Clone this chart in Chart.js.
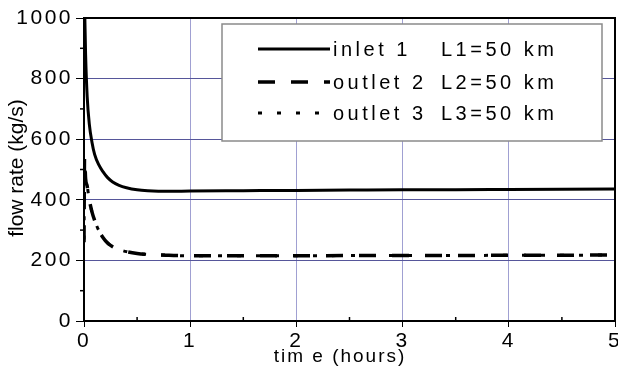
<!DOCTYPE html>
<html>
<head>
<meta charset="utf-8">
<script src="https://cdn.jsdelivr.net/npm/chart.js@4.4.1/dist/chart.umd.min.js"></script>
<style>
html, body { margin: 0; padding: 0; background: #fff; }
#wrap { width: 618px; height: 378px; }
</style>
</head>
<body>
<div id="wrap"><canvas id="myChart"></canvas></div>
<script>
// data
var timeHours   = [0, 0.005, 0.015, 0.03, 0.05, 0.075, 0.1, 0.14, 0.18, 0.22, 0.27, 0.33, 0.4, 0.5, 0.6, 0.8, 1.0, 1.5, 2, 2.5, 3, 3.5, 4, 4.5, 5]
var inletFlow   = [1100, 1050, 880, 740, 650, 590, 550, 515, 492, 474, 459, 448, 440, 433, 430, 428, 429, 430, 431, 432, 433, 433, 434, 435, 436]
var outlet2Flow = [260, 540, 470, 445, 400, 360, 332, 298, 275, 258, 245, 236, 229, 223, 220, 217, 215, 215, 215, 216, 216, 216, 217, 217, 218]
var outlet3Flow = [260, 540, 470, 445, 400, 360, 332, 298, 275, 258, 245, 236, 229, 223, 220, 217, 215, 215, 215, 216, 216, 216, 217, 217, 218]
var xMinorTicks = [0.5, 1.5, 2.5, 3.5, 4.5]
var yMinorTicks = [100, 300, 500, 700, 900]
var seriesNames = ['inlet 1', 'outlet 2', 'outlet 3']
var seriesLengths = ['L1=50 km', 'L2=50 km', 'L3=50 km']
var xTitle = 'tim e (hours)'
var yTitle = 'flow rate (kg/s)'

function points(ys){
    return timeHours.map(function(t, i){ return {x: t, y: ys[i]} })
}

var FONT = "'Liberation Sans', Arial, sans-serif"

// spacing for the wide looking labels
var spacing = {
    id: 'spacing',
    beforeDraw: function(chart){
        chart.ctx.letterSpacing = '2.5px'
    }
}

// frame, minor ticks, legend box and axis titles
var extras = {
    id: 'extras',
    afterDatasetsDraw: function(chart){
        var ctx = chart.ctx
        var a = chart.chartArea
        var xs = chart.scales.x
        var ys = chart.scales.y
        ctx.save()
        ctx.letterSpacing = '0px'
        ctx.strokeStyle = '#000'
        ctx.lineWidth = 2
        ctx.beginPath()
        ctx.moveTo(a.left, a.top)
        ctx.lineTo(a.right, a.top)
        ctx.lineTo(a.right, a.bottom)
        ctx.stroke()

        ctx.lineWidth = 1.5
        yMinorTicks.forEach(function(v){
            var py = ys.getPixelForValue(v)
            ctx.beginPath()
            ctx.moveTo(a.left - 4, py)
            ctx.lineTo(a.left, py)
            ctx.stroke()
        })
        xMinorTicks.forEach(function(v){
            var px = xs.getPixelForValue(v)
            ctx.beginPath()
            ctx.moveTo(px, a.bottom)
            ctx.lineTo(px, a.bottom - 4)
            ctx.stroke()
        })

        // legend
        ctx.fillStyle = '#fff'
        ctx.fillRect(222, 24, 380, 117)
        ctx.strokeStyle = '#8a8a8a'
        ctx.lineWidth = 1.5
        ctx.strokeRect(222, 24, 380, 117)
        var rows = [49, 82, 113]
        chart.data.datasets.forEach(function(ds, i){
            ctx.strokeStyle = '#000'
            ctx.lineWidth = ds.borderWidth
            ctx.setLineDash(ds.borderDash || [])
            ctx.beginPath()
            ctx.moveTo(258, rows[i])
            ctx.lineTo(330, rows[i])
            ctx.stroke()
            ctx.setLineDash([])
            ctx.fillStyle = '#000'
            ctx.font = '20px ' + FONT
            ctx.letterSpacing = '3.5px'
            ctx.textBaseline = 'middle'
            ctx.textAlign = 'left'
            ctx.fillText(seriesNames[i], 333, rows[i] + 1)
            ctx.fillText(seriesLengths[i], 441, rows[i] + 1)
        })

        // axis titles
        ctx.font = '19px ' + FONT
        ctx.letterSpacing = '2px'
        ctx.textAlign = 'center'
        ctx.fillText(xTitle, 340, 357)
        ctx.font = '21px ' + FONT
        ctx.letterSpacing = '0px'
        ctx.translate(17, 168)
        ctx.rotate(-Math.PI / 2)
        ctx.fillText(yTitle, 0, 0)
        ctx.restore()
    }
}

var ctx = document.getElementById('myChart')
var myChart = new Chart(ctx, {
    type: 'line',
    data: {
        datasets: [{
            label: seriesNames[0],
            data: points(inletFlow),
            borderColor: '#000',
            borderWidth: 3,
            pointRadius: 0,
            cubicInterpolationMode: 'monotone'
        }, {
            label: seriesNames[1],
            data: points(outlet2Flow),
            borderColor: '#000',
            borderWidth: 3.5,
            borderDash: [17, 16],
            pointRadius: 0,
            cubicInterpolationMode: 'monotone'
        }, {
            label: seriesNames[2],
            data: points(outlet3Flow),
            borderColor: '#000',
            borderWidth: 3,
            borderDash: [4, 15],
            borderDashOffset: -22,
            pointRadius: 0,
            cubicInterpolationMode: 'monotone'
        }]
    },
    options: {
        responsive: true,
        maintainAspectRatio: false,
        animation: false,
        layout: { padding: { top: 18, right: 3, left: 0, bottom: 0 } },
        plugins: {
            legend: { display: false },
            tooltip: { enabled: false }
        },
        scales: {
            x: {
                type: 'linear',
                min: 0,
                max: 5,
                afterFit: function(s){ s.height = 57; s.paddingLeft = 0; s.paddingRight = 0 },
                ticks: { stepSize: 1, color: '#000', padding: 2, font: { size: 21, family: FONT } },
                grid: {
                    color: function(c){ return (c.tick && c.tick.value > 0 && c.tick.value < 5) ? '#a0a0d2' : 'rgba(0,0,0,0)' },
                    tickColor: '#000',
                    tickLength: 6,
                    lineWidth: 1
                },
                border: { color: '#000', width: 2 }
            },
            y: {
                min: 0,
                max: 1000,
                afterFit: function(s){ s.width = 84; s.paddingTop = 0; s.paddingBottom = 0 },
                ticks: {
                    stepSize: 200, color: '#000', padding: 3, font: { size: 21, family: FONT },
                    callback: function(v){ return String(v) }
                },
                grid: {
                    color: function(c){ return (c.tick && c.tick.value > 0 && c.tick.value < 1000) ? '#56569a' : 'rgba(0,0,0,0)' },
                    tickColor: '#000',
                    tickLength: 8,
                    lineWidth: 1
                },
                border: { color: '#000', width: 2 }
            }
        }
    },
    plugins: [spacing, extras]
});
</script>
</body>
</html>
